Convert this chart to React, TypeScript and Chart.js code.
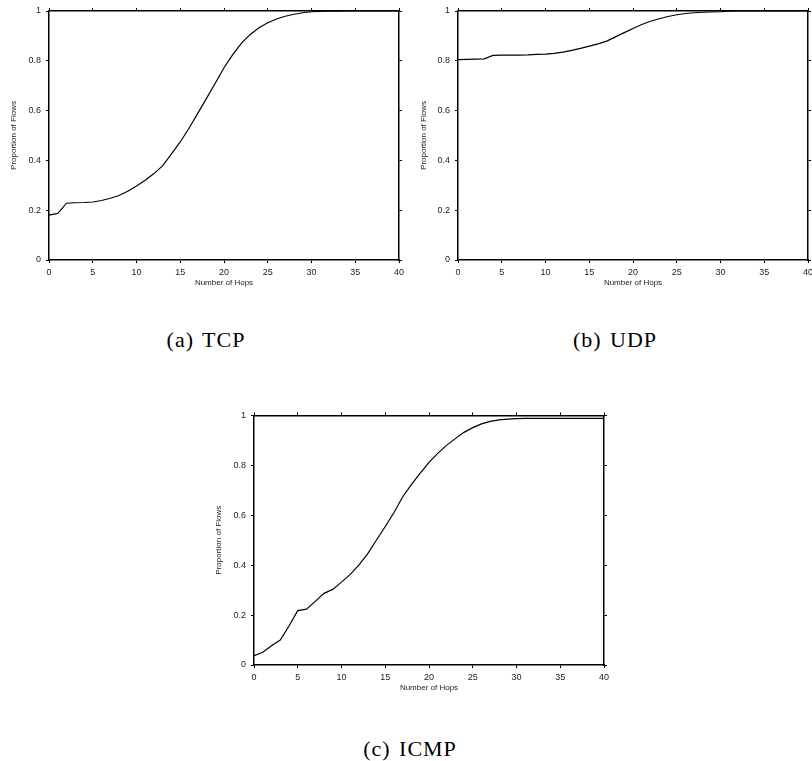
import React, { useEffect, useRef } from "react";
import { Chart, registerables } from "chart.js";

Chart.register(...registerables);

// ---- data ----
const hops = [
  0, 1, 2, 3, 4, 5, 6, 7, 8, 9, 10, 11, 12, 13, 14, 15, 16, 17, 18, 19, 20,
  21, 22, 23, 24, 25, 26, 27, 28, 29, 30, 31, 32, 33, 34, 35, 36, 37, 38, 39, 40,
];

const tcpFlows = [
  0.18, 0.187, 0.228, 0.23, 0.231, 0.233, 0.239, 0.248, 0.259, 0.276, 0.297,
  0.32, 0.347, 0.379, 0.426, 0.474, 0.529, 0.589, 0.649, 0.71, 0.772,
  0.825, 0.871, 0.906, 0.933, 0.953, 0.968, 0.979, 0.987, 0.993, 0.997,
  0.998, 0.999, 0.999, 1.0, 1.0, 1.0, 1.0, 1.0, 1.0, 1.0,
];

const udpFlows = [
  0.805, 0.806, 0.807, 0.808, 0.822, 0.823, 0.823, 0.823, 0.824, 0.826, 0.827,
  0.83, 0.835, 0.842, 0.85, 0.859, 0.868, 0.879, 0.896, 0.913, 0.93,
  0.946, 0.959, 0.969, 0.978, 0.985, 0.99, 0.993, 0.995, 0.996, 0.997,
  0.999, 1.0, 1.0, 1.0, 1.0, 1.0, 1.0, 1.0, 1.0, 1.0,
];

const icmpFlows = [
  0.037, 0.051, 0.077, 0.1, 0.156, 0.218, 0.224, 0.255, 0.287, 0.303, 0.332,
  0.363, 0.401, 0.446, 0.501, 0.555, 0.611, 0.674, 0.724, 0.769, 0.812,
  0.848, 0.88, 0.907, 0.932, 0.951, 0.966, 0.976, 0.982, 0.985, 0.987,
  0.988, 0.988, 0.988, 0.988, 0.988, 0.988, 0.988, 0.988, 0.988, 0.988,
];

const xMin = 0;
const xMax = 40;
const xStep = 5;
const yMin = 0;
const yMax = 1;
const yStep = 0.2;

const xAxisTitle = "Number of Hops";
const yAxisTitle = "Proportion of Flows";

const captionA = "(a) TCP";
const captionB = "(b) UDP";
const captionC = "(c) ICMP";

// ---- styling ----
const sansFamily = "'Liberation Sans', Arial, Helvetica, sans-serif";
const serifFamily = "'Liberation Serif', 'Times New Roman', serif";

type Area = { l: number; t: number; r: number; b: number };

type PanelProps = {
  values: number[];
  left: number;
  top: number;
  width: number;
  height: number;
  area: Area;
  yTitleOffset: number;
};

function CdfPanel({ values, left, top, width, height, area, yTitleOffset }: PanelProps) {
  const ref = useRef<HTMLCanvasElement | null>(null);

  useEffect(() => {
    if (!ref.current) return;
    const tickFont = { family: sansFamily, size: 9 };
    const titleFont = { family: sansFamily, size: 8 };
    const grid = {
      display: true,
      drawOnChartArea: false,
      drawTicks: true,
      tickLength: 3,
      color: "#000",
      lineWidth: 1,
    };
    const border = { display: true, color: "#000", width: 1.5 };

    const yAxisWidth = area.l - left;
    const xAxisHeight = top + height - area.b;

    const chart = new Chart(ref.current, {
      type: "line",
      data: {
        datasets: [
          {
            data: hops.map((h, i) => ({ x: h, y: values[i] })),
            borderColor: "#000",
            borderWidth: 1.2,
            pointRadius: 0,
            tension: 0,
            fill: false,
            xAxisID: "x",
            yAxisID: "y",
          },
        ],
      },
      options: {
        animation: false,
        responsive: false,
        maintainAspectRatio: false,
        devicePixelRatio: 1,
        layout: {
          padding: {
            left: 0,
            top: area.t - top,
            right: left + width - area.r,
            bottom: 0,
          },
        },
        plugins: {
          legend: { display: false },
          tooltip: { enabled: false },
        },
        scales: {
          x: {
            type: "linear",
            position: "bottom",
            min: xMin,
            max: xMax,
            ticks: {
              stepSize: xStep,
              font: tickFont,
              color: "#222",
              padding: 4,
              maxRotation: 0,
              autoSkip: false,
              callback: (v: any) => String(Number(Number(v).toFixed(1))),
            },
            grid,
            border,
            title: {
              display: true,
              text: xAxisTitle,
              font: titleFont,
              color: "#222",
              padding: { top: 0, bottom: 12.2 },
            },
            afterFit: (s: any) => {
              s.height = xAxisHeight;
            },
          },
          x2: {
            type: "linear",
            position: "top",
            min: xMin,
            max: xMax,
            ticks: { display: false, stepSize: xStep },
            grid,
            border,
            afterFit: (s: any) => {
              s.height = 0;
            },
          },
          y: {
            type: "linear",
            position: "left",
            min: yMin,
            max: yMax,
            ticks: {
              stepSize: yStep,
              font: tickFont,
              color: "#222",
              padding: 5,
              autoSkip: false,
              callback: (v: any) => String(Number(Number(v).toFixed(1))),
            },
            grid,
            border,
            title: {
              display: true,
              text: yAxisTitle,
              font: titleFont,
              color: "#222",
              padding: { top: yTitleOffset - 4.8, bottom: 0 },
            },
            afterFit: (s: any) => {
              s.width = yAxisWidth;
            },
          },
          y2: {
            type: "linear",
            position: "right",
            min: yMin,
            max: yMax,
            ticks: { display: false, stepSize: yStep },
            grid,
            border,
            afterFit: (s: any) => {
              s.width = 0;
            },
          },
        },
      } as any,
    });
    return () => chart.destroy();
  }, [values, left, top, width, height, area, yTitleOffset]);

  return (
    <canvas
      ref={ref}
      width={width}
      height={height}
      style={{ position: "absolute", left, top, width, height }}
    />
  );
}

function Caption({ text, center, capTop }: { text: string; center: number; capTop: number }) {
  return (
    <div
      style={{
        position: "absolute",
        left: center - 120,
        width: 240,
        top: capTop - 3.8,
        textAlign: "center",
        fontFamily: serifFamily,
        fontSize: 22,
        lineHeight: "22px",
        letterSpacing: "1px",
        wordSpacing: "2px",
        color: "#000",
        whiteSpace: "nowrap",
      }}
    >
      {text}
    </div>
  );
}

const areaA: Area = { l: 49, t: 11, r: 399, b: 260 };
const areaB: Area = { l: 458, t: 11, r: 808, b: 260 };
const areaC: Area = { l: 254, t: 415, r: 604, b: 665 };

export default function App() {
  return (
    <div
      style={{
        position: "absolute",
        left: 0,
        top: 0,
        width: 812,
        height: 761,
        overflow: "hidden",
        background: "#fff",
      }}
    >
      <CdfPanel values={tcpFlows} left={0} top={0} width={410} height={300} area={areaA} yTitleOffset={14} />
      <CdfPanel values={udpFlows} left={405} top={0} width={420} height={300} area={areaB} yTitleOffset={18.3} />
      <CdfPanel values={icmpFlows} left={205} top={405} width={410} height={300} area={areaC} yTitleOffset={14} />
      <Caption text={captionA} center={206} capTop={333} />
      <Caption text={captionB} center={615} capTop={333} />
      <Caption text={captionC} center={410} capTop={742} />
    </div>
  );
}
